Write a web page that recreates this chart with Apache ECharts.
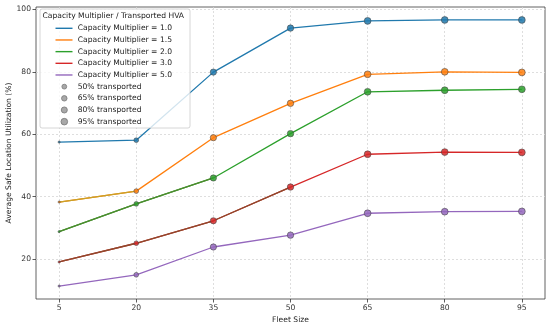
<!DOCTYPE html>
<html>
<head>
<meta charset="utf-8">
<script src="https://cdn.jsdelivr.net/npm/echarts@6/dist/echarts.min.js"></script>
<style>html,body{margin:0;padding:0;background:#fff}#c{width:550px;height:327px}</style>
</head>
<body>
<div id="c"></div>
<script>
// ---- data ----
const fleetSizes = [5, 20, 35, 50, 65, 80, 95];
const multiplierNames = ['Capacity Multiplier = 1.0', 'Capacity Multiplier = 1.5', 'Capacity Multiplier = 2.0', 'Capacity Multiplier = 3.0', 'Capacity Multiplier = 5.0'];
const util_1_0 = [57.5, 58.1, 79.9, 94.0, 96.3, 96.6, 96.6];
const util_1_5 = [38.3, 41.8, 58.9, 69.9, 79.2, 80.0, 79.8];
const util_2_0 = [28.8, 37.7, 46.0, 60.2, 73.6, 74.1, 74.4];
const util_3_0 = [19.1, 25.1, 32.3, 43.1, 53.6, 54.3, 54.2];
const util_5_0 = [11.4, 15.0, 23.9, 27.7, 34.7, 35.2, 35.3];
const transportedPct = [10, 48, 85, 90, 100, 100, 100];
const sizeLegendPct = [50, 65, 80, 95];
const yTicks = [20, 40, 60, 80, 100];
const xTicks = [5, 20, 35, 50, 65, 80, 95];
const legendTitle = 'Capacity Multiplier / Transported HVA';
const xTitle = 'Fleet Size';
const yTitle = 'Average Safe Location Utilization (%)';

// ---- styles ----
const colors = ['#2079ad', '#ff7f0e', '#2ca02c', '#d62728', '#9467bd'];
const leftColors = [null, '#c9a227', '#4f8a2e', '#8b4a2c', null];
const leftUntil = [0, 1, 2, 3, 0]; // index of last point of blended segment
const allSeries = [util_1_0, util_1_5, util_2_0, util_3_0, util_5_0];
const FONT = 'DejaVu Sans';
const FS = 7.6;
const sizeOf = p => 0.68 * Math.sqrt(p);

const series = [];
allSeries.forEach((vals, i) => {
  const data = fleetSizes.map((x, j) => [x, vals[j], transportedPct[j]]);
  series.push({
    type: 'line', name: multiplierNames[i], data: data,
    symbol: 'circle',
    symbolSize: v => sizeOf(v[2]),
    lineStyle: {color: colors[i], width: 1.3},
    itemStyle: {color: colors[i], borderColor: 'rgba(70,70,70,0.75)', borderWidth: 0.9, opacity: 0.85},
    z: 3, animation: false
  });
  if (leftColors[i]) {
    series.push({
      type: 'line', data: data.slice(0, leftUntil[i] + 1),
      showSymbol: false, silent: true,
      lineStyle: {color: leftColors[i], width: 1.3},
      z: 3, animation: false
    });
  }
});

// ---- legend as graphic ----
const lg = [];
const bx = 40, by = 9, bw = 150, bh = 119, rowH = 11.67, row0 = 28.3;
lg.push({type: 'rect', shape: {x: bx, y: by, width: bw, height: bh, r: 2},
  style: {fill: 'rgba(255,255,255,0.8)', stroke: '#cccccc', lineWidth: 0.8}, z: 100});
lg.push({type: 'text', x: 42.5, y: 16.5, style: {text: legendTitle, font: FS + 'px "' + FONT + '"', fill: '#222', verticalAlign: 'middle'}, z: 101});
multiplierNames.forEach((n, i) => {
  const y = row0 + i * rowH;
  lg.push({type: 'line', shape: {x1: 55.5, y1: y, x2: 72.5, y2: y}, style: {stroke: colors[i], lineWidth: 1.4}, z: 101});
  lg.push({type: 'text', x: 77.7, y: y, style: {text: n, font: FS + 'px "' + FONT + '"', fill: '#222', verticalAlign: 'middle'}, z: 101});
});
sizeLegendPct.forEach((p, k) => {
  const y = row0 + (multiplierNames.length + k) * rowH;
  lg.push({type: 'circle', shape: {cx: 64.3, cy: y, r: sizeOf(p) / 2}, style: {fill: '#a8a8a8', stroke: '#777', lineWidth: 0.8}, z: 101});
  lg.push({type: 'text', x: 77.7, y: y, style: {text: p + '% transported', font: FS + 'px "' + FONT + '"', fill: '#222', verticalAlign: 'middle'}, z: 101});
});

const chart = echarts.init(document.getElementById('c'), null, {renderer: 'canvas'});
chart.setOption({
  animation: false,
  textStyle: {fontFamily: FONT},
  grid: {left: 36, right: 5, top: 7, bottom: 28, containLabel: false, outerBoundsMode: 'none', show: true, borderColor: '#3a3a3a', borderWidth: 0.8, backgroundColor: 'transparent'},
  xAxis: {
    type: 'value', min: 0.5, max: 99.5,
    name: xTitle, nameLocation: 'middle', nameGap: 17, nameMoveOverlap: false,
    nameTextStyle: {fontSize: FS, color: '#222', fontFamily: FONT},
    axisLine: {show: false},
    axisTick: {show: true, length: 3.5, lineStyle: {color: '#333', width: 0.8}, customValues: xTicks},
    axisLabel: {fontSize: FS, color: '#333', fontFamily: FONT, margin: 5, customValues: xTicks},
    splitLine: {show: true, lineStyle: {color: '#d6d6d6', width: 0.8, type: [2, 2]}}
  },
  yAxis: {
    type: 'value', min: 7.25, max: 100.75,
    name: yTitle, nameLocation: 'middle', nameGap: 23, nameMoveOverlap: false,
    nameTextStyle: {fontSize: FS, color: '#222', fontFamily: FONT},
    axisLine: {show: false},
    axisTick: {show: true, length: 3.5, lineStyle: {color: '#333', width: 0.8}, customValues: yTicks},
    axisLabel: {fontSize: FS, color: '#333', fontFamily: FONT, margin: 5, customValues: yTicks},
    splitLine: {show: true, lineStyle: {color: '#d6d6d6', width: 0.8, type: [2, 2]}}
  },
  series: series,
  graphic: lg
});
</script>
</body>
</html>
